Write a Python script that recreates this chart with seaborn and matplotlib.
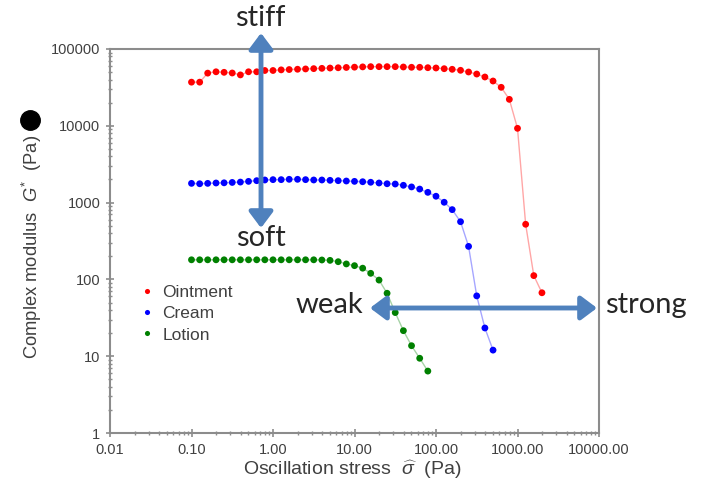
import numpy as np
import pandas as pd
import matplotlib
matplotlib.use("Agg")
import matplotlib.pyplot as plt
from matplotlib.lines import Line2D
from matplotlib.patches import FancyArrowPatch
from matplotlib.ticker import LogLocator, NullFormatter
import seaborn as sns

# ---------------- data ----------------
stress = [0.100, 0.126, 0.158, 0.200, 0.251, 0.316, 0.398, 0.501, 0.631, 0.794,
          1.00, 1.26, 1.58, 2.00, 2.51, 3.16, 3.98, 5.01, 6.31, 7.94,
          10.0, 12.6, 15.8, 20.0, 25.1, 31.6, 39.8, 50.1, 63.1, 79.4,
          100, 126, 158, 200, 251, 316, 398, 501, 631, 794,
          1000, 1259, 1585, 1995]

ointment = [37000, 37000, 48500, 50500, 49700, 48700, 46000, 50500, 50500, 52500,
            52500, 53500, 54000, 54500, 55000, 55500, 56000, 56500, 57000, 57500,
            58000, 58500, 58900, 58900, 58900, 58900, 58300, 57800, 57800, 57100,
            56600, 55400, 54400, 52800, 50200, 47200, 43200, 38300, 31700, 22100,
            9270, 522, 112, 67]

cream = [1780, 1760, 1780, 1800, 1810, 1830, 1850, 1890, 1930, 1970,
         1990, 1990, 2010, 2010, 1990, 1970, 1970, 1950, 1930, 1910,
         1890, 1870, 1840, 1800, 1760, 1745, 1680, 1600, 1500, 1360,
         1210, 1010, 810, 564, 269, 61, 23.3, 12.0]

lotion = [180, 180, 180, 180, 180, 180, 180, 180, 180, 180,
          180, 180, 180, 180, 180, 180, 179, 177, 170, 159,
          151, 140, 120, 98, 66, 37, 21.5, 13.7, 9.4, 6.4]

series_names = ["Ointment", "Cream", "Lotion"]
series_colors = ["#ff0000", "#0000ff", "#008000"]

xtick_values = [0.01, 0.1, 1, 10, 100, 1000, 10000]
xtick_labels = ["0.01", "0.10", "1.00", "10.00", "100.00", "1000.00", "10000.00"]
ytick_values = [1, 10, 100, 1000, 10000, 100000]
ytick_labels = ["1", "10", "100", "1000", "10000", "100000"]

frames = []
for name, vals in zip(series_names, [ointment, cream, lotion]):
    frames.append(pd.DataFrame({"stress": stress[:len(vals)], "modulus": vals, "sample": name}))
df = pd.concat(frames, ignore_index=True)

# ---------------- style ----------------
sns.set_theme(style="white")
plt.rcParams["font.family"] = ["Liberation Sans", "DejaVu Sans"]
plt.rcParams["mathtext.fontset"] = "custom"
plt.rcParams["mathtext.rm"] = "Liberation Sans"
plt.rcParams["mathtext.it"] = "Liberation Sans:italic"
plt.rcParams["mathtext.bf"] = "Liberation Sans:bold"

W, H = 704, 486
fig = plt.figure(figsize=(W / 100, H / 100), dpi=100)
L, R, T, B = 110, 599, 49, 433
ax = fig.add_axes([L / W, 1 - B / H, (R - L) / W, (B - T) / H])

palette = dict(zip(series_names, series_colors))
sns.lineplot(data=df, x="stress", y="modulus", hue="sample", palette=palette,
             linewidth=1.0, alpha=0.35, legend=False, ax=ax, sort=False)
sns.scatterplot(data=df, x="stress", y="modulus", hue="sample", palette=palette,
                s=24, linewidth=0, ax=ax, zorder=3)

ax.set_xscale("log")
ax.set_yscale("log")
ax.set_xlim(0.01, 10000)
ax.set_ylim(1, 100000)

gray = "#8c8c8c"
txtc = "#404040"
for sp in ax.spines.values():
    sp.set_color(gray)
    sp.set_linewidth(1.5)

ax.set_xticks(xtick_values, xtick_labels)
ax.set_yticks(ytick_values, ytick_labels)
ax.xaxis.set_minor_locator(LogLocator(base=10, subs=np.arange(2, 10), numticks=20))
ax.yaxis.set_minor_locator(LogLocator(base=10, subs=np.arange(2, 10), numticks=20))
ax.xaxis.set_minor_formatter(NullFormatter())
ax.yaxis.set_minor_formatter(NullFormatter())
ax.tick_params(axis="both", which="major", direction="inout", length=6, width=1.2,
               color=gray, labelsize=10.5, labelcolor=txtc, pad=4,
               bottom=True, left=True, top=False, right=False)
ax.tick_params(axis="both", which="minor", direction="inout", length=3.5, width=1.0,
               color=gray, bottom=True, left=True, top=False, right=False)

ax.set_xlabel(r"Oscillation stress  $\widehat{\sigma}$  (Pa)", fontsize=14, color=txtc)
ax.set_ylabel(r"Complex modulus  $G^{*}$  (Pa)", fontsize=13.2, color=txtc)
ax.xaxis.set_label_coords((352 - L) / (R - L), (B - 458) / (B - T))
ax.yaxis.set_label_coords((44 - L) / (R - L), (B - 247) / (B - T))

# big black dot above y label
fig.add_artist(Line2D([30 / W], [1 - 120 / H], marker="o", markersize=14,
                      color="black", transform=fig.transFigure))

leg = ax.legend(loc="upper left", bbox_to_anchor=((126 - L) / (R - L), (B - 278) / (B - T)),
                frameon=False, fontsize=12.5, handletextpad=0.1, labelspacing=0.35,
                borderaxespad=0, markerscale=0.75, handlelength=1.6)
for t in leg.get_texts():
    t.set_color(txtc)

# annotation arrows (figure pixel coords)
arrow_c = "#4f81bd"
def fp(x, y):
    return (x / W, 1 - y / H)

for (p1, p2) in [((261, 33), (261, 228)), ((370, 308), (597, 308))]:
    fig.add_artist(FancyArrowPatch(fp(*p1), fp(*p2), transform=fig.transFigure,
                                   arrowstyle="<|-|>,head_length=6,head_width=4.5",
                                   mutation_scale=1.6, linewidth=3.5, color=arrow_c,
                                   shrinkA=0, shrinkB=0))

afont = dict(fontsize=21, color="#262626", family=["Lato", "DejaVu Sans"],
             ha="center", va="center")
fig.text(*fp(260, 18), "stiff", **afont)
fig.text(*fp(261, 238), "soft", **afont)
fig.text(*fp(329, 305), "weak", **afont)
fig.text(*fp(646, 305), "strong", **afont)

fig.savefig("out.png", dpi=100)
